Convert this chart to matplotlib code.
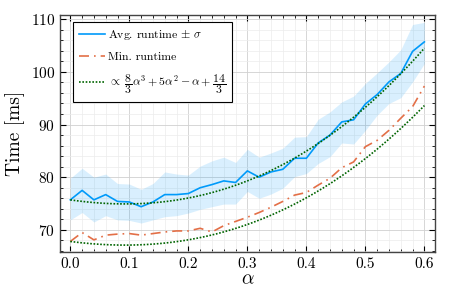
import numpy as np
import matplotlib
matplotlib.use("Agg")
import matplotlib.pyplot as plt
from matplotlib.ticker import MultipleLocator

plt.rcParams['font.family'] = 'serif'
plt.rcParams['font.serif'] = ['cmr10', 'DejaVu Serif']
plt.rcParams['mathtext.fontset'] = 'cm'
plt.rcParams['axes.formatter.use_mathtext'] = True
plt.rcParams['axes.unicode_minus'] = False

alpha = np.round(np.arange(0, 0.601, 0.02), 2)

avg_runtime = [75.7, 77.5, 75.7, 76.7, 75.4, 75.3, 74.4, 75.3, 76.7, 76.7,
               76.9, 78.0, 78.6, 79.3, 79.0, 81.2, 80.0, 81.0, 81.5, 83.6,
               83.6, 86.5, 88.0, 90.5, 90.9, 93.9, 95.7, 98.1, 99.7, 103.9, 105.7]
avg_upper = [79.8, 81.7, 80.0, 80.6, 78.8, 78.7, 77.7, 78.8, 81.0, 80.6,
             80.4, 82.1, 83.1, 83.8, 82.8, 85.3, 83.8, 84.6, 85.5, 87.6,
             87.7, 91.0, 92.4, 94.3, 95.4, 97.8, 99.8, 101.9, 104.2, 109.0, 109.4]
avg_lower = [71.9, 73.3, 71.5, 72.7, 71.9, 71.8, 71.3, 71.9, 72.5, 72.7,
             73.2, 73.9, 74.4, 74.9, 74.9, 77.3, 76.0, 76.8, 77.9, 80.1,
             80.7, 82.6, 83.9, 86.5, 86.3, 88.9, 91.8, 94.0, 95.1, 98.1, 101.6]
min_runtime = [67.8, 69.5, 68.1, 69.0, 69.2, 69.3, 69.0, 69.3, 69.6, 69.8,
               69.8, 70.3, 69.6, 70.8, 71.6, 72.4, 73.3, 74.3, 75.4, 76.6,
               77.1, 78.5, 79.8, 81.8, 82.9, 85.8, 87.0, 88.9, 91.2, 93.4, 97.3]


def model(a):
    return 8 / 3 * a**3 + 5 * a**2 - a + 14 / 3


# scale the model so it passes through the first measurement
def anchored(y, a):
    return y[0] / model(0.0) * model(a)


blue = '#009AFA'
orange = '#E36F47'
green = '#006400'

fig = plt.figure(figsize=(4.5, 3), dpi=100)
ax = fig.add_axes([0.1333, 0.16, 0.8334, 0.79])

a_fine = np.linspace(0, 0.6, 200)

ax.fill_between(alpha, avg_lower, avg_upper, color=blue, alpha=0.15, linewidth=0)
ax.plot(alpha, avg_runtime, color=blue, lw=1.2, label=r'Avg. runtime $\pm\ \sigma$')
ax.plot(alpha, min_runtime, color=orange, lw=1.2, ls=(0, (6, 3, 1, 3)), label='Min. runtime')
ax.plot(a_fine, anchored(avg_runtime, a_fine), color=green, lw=1.2, ls=(0, (1, 1)),
        label=r'$\propto\ \dfrac{8}{3}\alpha^3+5\alpha^2-\alpha+\dfrac{14}{3}$')
ax.plot(a_fine, anchored(min_runtime, a_fine), color=green, lw=1.2, ls=(0, (1, 1)))

ax.set_xlim(-0.0175, 0.618)
ax.set_ylim(65.8, 110.8)
ax.xaxis.set_major_locator(MultipleLocator(0.1))
ax.xaxis.set_minor_locator(MultipleLocator(0.02))
ax.yaxis.set_major_locator(MultipleLocator(10))
ax.yaxis.set_minor_locator(MultipleLocator(2))
ax.xaxis.set_major_formatter(matplotlib.ticker.FormatStrFormatter('%.1f'))

ax.grid(True, which='major', color='#d0d0d0', lw=0.6)
ax.grid(True, which='minor', color='#ececec', lw=0.5)
ax.set_axisbelow(True)
ax.tick_params(which='both', direction='in', top=True, right=True, labelsize=11)
ax.tick_params(which='major', length=4)
ax.tick_params(which='minor', length=2.5)
for s in ax.spines.values():
    s.set_color('#444444')
    s.set_linewidth(1.0)

ax.set_xlabel(r'$\alpha$', fontsize=14, labelpad=0)
ax.set_ylabel('Time [ms]', fontsize=14, labelpad=4)

leg = ax.legend(loc='upper left', bbox_to_anchor=(0.034, 0.97), borderaxespad=0,
                fontsize=8.5, fancybox=False, edgecolor='black', framealpha=1,
                handlelength=2.2, handletextpad=0.3, borderpad=0.5,
                labelspacing=0.85)
leg.get_frame().set_linewidth(0.8)

fig.savefig('out.png', dpi=100)
